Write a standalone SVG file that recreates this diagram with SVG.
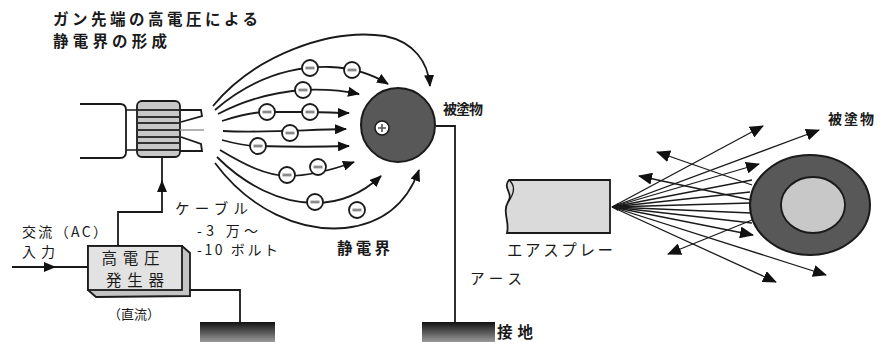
<svg xmlns="http://www.w3.org/2000/svg" width="880" height="342" viewBox="0 0 880 342">
  <style>
    .ln { fill: none; stroke: #1a1a1a; stroke-width: 1.8; }
    .thin { fill: none; stroke: #1a1a1a; stroke-width: 1.3; }
    .txt { font-family: "Noto Sans CJK JP", "Noto Sans", sans-serif; fill: #1a1a1a; }
    .b { font-weight: bold; }
    .neg circle { fill: #fff; stroke: #1a1a1a; stroke-width: 1.8; }
    .neg line { stroke: #8a8a8a; stroke-width: 2.8; }
  </style>
  <defs>
    <marker id="ah" viewBox="0 0 12 10" refX="11" refY="5" markerWidth="12" markerHeight="10" markerUnits="userSpaceOnUse" orient="auto">
      <path d="M0,0 L12,5 L0,10 Z" fill="#111"/>
    </marker>
    <marker id="ah2" viewBox="0 0 14 12" refX="13" refY="6" markerWidth="14" markerHeight="12" markerUnits="userSpaceOnUse" orient="auto">
      <path d="M0,0 L14,6 L0,12 Z" fill="#111"/>
    </marker>
    <linearGradient id="gnd" x1="0" y1="0" x2="0" y2="1">
      <stop offset="0" stop-color="#111"/>
      <stop offset="1" stop-color="#9a9a9a"/>
    </linearGradient>
    <g id="minus" class="neg">
      <circle r="8"/>
      <line x1="-4.5" y1="0" x2="4.5" y2="0"/>
    </g>
  </defs>

  <rect width="880" height="342" fill="#fff"/>

  <!-- heading, two lines -->
  <g id="title">
    <text class="txt b" font-size="15.5">
      <tspan x="53" y="25" textLength="205" lengthAdjust="spacing">ガン先端の高電圧による</tspan>
      <tspan x="53" y="47" textLength="114" lengthAdjust="spacing">静電界の形成</tspan>
    </text>
  </g>

  <!-- spray gun with coil and nozzle -->
  <g id="gun">
    <path class="ln" d="M80,104 H120 Q126,104 126,110 V152 Q126,158 120,158 H80"/>
    <path class="thin" d="M126,110 H137 M126,150 H137"/>
    <rect x="137" y="101" width="43" height="56" rx="5" fill="#c8c8c8" stroke="#1a1a1a" stroke-width="1.8"/>
    <path d="M138,110 H179 M138,117 H179 M138,123 H179 M138,130 H179 M138,137 H179 M138,143 H179 M138,150 H179" stroke="#333" stroke-width="1.8" fill="none"/>
    <path class="ln" d="M180,110 H201 L202,116 L181,122"/>
    <path class="ln" d="M181,137 L201,144 L202,151 H180"/>
    <path d="M180,130 H204" stroke="#999" stroke-width="1.5" fill="none"/>
  </g>

  <!-- high voltage generator -->
  <g id="generator">
    <polygon points="88,246 182,246 190,253 190,296 96,297 88,290" fill="#c4c4c4" stroke="#1a1a1a" stroke-width="1.8"/>
    <rect x="88" y="246" width="94" height="44" fill="#e2e2e2" stroke="#1a1a1a" stroke-width="1.8"/>
    <text class="txt" font-size="15.5" text-anchor="middle">
      <tspan x="135" y="264" textLength="58" lengthAdjust="spacing">高電圧</tspan>
      <tspan x="135" y="286" textLength="58" lengthAdjust="spacing">発生器</tspan>
    </text>
  </g>

  <!-- charged object -->
  <g id="target">
    <circle cx="398" cy="125" r="37" fill="#585858" stroke="#1a1a1a" stroke-width="2"/>
    <circle cx="382" cy="128" r="7" fill="#fff" stroke="#1a1a1a" stroke-width="1.5"/>
    <path d="M382,124 V132 M378,128 H386" stroke="#555" stroke-width="1.6"/>
  </g>

  <!-- grounds -->
  <g id="ground1">
    <rect x="200" y="322" width="75" height="20" fill="url(#gnd)"/>
  </g>
  <g id="ground2">
    <rect x="422" y="322" width="73" height="20" fill="url(#gnd)"/>
  </g>

  <!-- air spray pipe -->
  <g id="airspray">
    <path d="M509,180 H610 V233 H507 C510,222 502,212 508,202 C514,193 502,188 509,180 Z" fill="#dadada" stroke="#1a1a1a" stroke-width="1.8"/>
    <path class="thin" d="M509,180 C516,186 514,194 508,202"/>
  </g>

  <!-- ring object -->
  <g id="ring">
    <ellipse cx="810" cy="205" rx="60" ry="50" fill="#585858" stroke="#1a1a1a" stroke-width="2"/>
    <ellipse cx="813" cy="205" rx="32" ry="28" fill="#c8c8c8" stroke="#1a1a1a" stroke-width="1.8"/>
  </g>

  <!-- connectors -->
  <g id="connectors">
    <!-- field lines -->
    <path class="ln" marker-end="url(#ah)" d="M213,106 C255,55 330,28 385,36 C414,42 428,62 430,86"/>
    <path class="ln" marker-end="url(#ah)" d="M215,110 C250,80 290,66 330,67 C355,68 372,74 388,84"/>
    <path class="ln" marker-end="url(#ah)" d="M218,114 C245,100 275,92 303,90 C325,89 340,90 359,94"/>
    <path class="ln" marker-end="url(#ah)" d="M222,121 C240,115 255,112 267,112 L310,112 C325,112 335,113 349,113"/>
    <path class="ln" marker-end="url(#ah)" d="M223,131 C260,133 300,130 346,129"/>
    <path class="ln" marker-end="url(#ah)" d="M222,140 C240,145 250,146 258,146 C290,147 320,147 349,146"/>
    <path class="ln" marker-end="url(#ah)" d="M220,150 C245,165 265,175 287,176 C310,176 332,170 354,162"/>
    <path class="ln" marker-end="url(#ah)" d="M217,157 C245,185 280,203 315,203 C345,203 366,190 381,176"/>
    <path class="ln" marker-end="url(#ah)" d="M215,163 C250,210 300,232 345,228 C390,223 410,195 419,170"/>

    <!-- supply wiring -->
    <path class="ln" d="M12,267 H88"/>
    <polygon points="44,262 56,267 44,272" fill="#111"/>
    <path class="ln" d="M118,246 V212 H162 V157"/>
    <polygon points="162,180 157,192 167,192" fill="#111"/>
    <path class="ln" d="M189,290 H240 V322"/>
    <path class="ln" d="M436,126 H455 V322"/>

    <!-- spray paths -->
    <path d="M612,207 L618,203 L618,211 Z" fill="#111"/>
    <g class="thin">
      <path marker-end="url(#ah2)" d="M612,207 L763,126"/>
      <path marker-end="url(#ah2)" d="M612,207 L819,130"/>
      <path marker-end="url(#ah2)" d="M612,207 L759,164"/>
      <path marker-end="url(#ah2)" d="M612,207 L753,235"/>
      <path marker-end="url(#ah2)" d="M612,207 L776,282"/>
      <path marker-end="url(#ah2)" d="M612,207 L826,275"/>
      <path d="M612,207 L752,180"/>
      <path d="M612,207 L750,192"/>
      <path d="M612,207 L750,203"/>
      <path d="M612,207 L751,213"/>
      <path d="M612,207 L752,223"/>
      <path marker-end="url(#ah2)" d="M752,185 L657,152"/>
      <path marker-end="url(#ah2)" d="M751,200 L639,176"/>
      <path marker-end="url(#ah2)" d="M752,220 L668,254"/>
    </g>
  </g>

  <!-- negative charges -->
  <g id="charges">
    <use href="#minus" x="310" y="68"/>
    <use href="#minus" x="352" y="70"/>
    <use href="#minus" x="303" y="90"/>
    <use href="#minus" x="267" y="112"/>
    <use href="#minus" x="310" y="112"/>
    <use href="#minus" x="290" y="133"/>
    <use href="#minus" x="258" y="146"/>
    <use href="#minus" x="318" y="167"/>
    <use href="#minus" x="287" y="175"/>
    <use href="#minus" x="315" y="202"/>
    <use href="#minus" x="357" y="210"/>
  </g>

  <!-- labels -->
  <g id="labels">
    <text class="txt" font-size="14">
      <tspan x="22" y="237" textLength="85" lengthAdjust="spacing">交流（AC）</tspan>
      <tspan x="22" y="257" textLength="33" lengthAdjust="spacing">入力</tspan>
    </text>
    <text class="txt" x="108" y="319" font-size="13" textLength="52" lengthAdjust="spacing">（直流）</text>
    <text class="txt" font-size="14.5">
      <tspan x="175" y="214" textLength="73" lengthAdjust="spacing">ケーブル</tspan>
      <tspan x="197" y="236" font-size="14" textLength="61" lengthAdjust="spacing">-3 万～</tspan>
      <tspan x="197" y="255" font-size="14" textLength="81" lengthAdjust="spacing">-10 ボルト</tspan>
    </text>
    <text class="txt b" x="443" y="114" font-size="14" textLength="40" lengthAdjust="spacing">被塗物</text>
    <text class="txt b" x="337" y="254" font-size="15.5" textLength="53" lengthAdjust="spacing">静電界</text>
    <text class="txt" x="470" y="284" font-size="14.5" textLength="52" lengthAdjust="spacing">アース</text>
    <text class="txt b" x="497" y="338" font-size="15.5" textLength="36" lengthAdjust="spacing">接地</text>
    <text class="txt" x="507" y="256" font-size="15.5" textLength="106" lengthAdjust="spacing">エアスプレー</text>
    <text class="txt b" x="828" y="124" font-size="14" textLength="46" lengthAdjust="spacing">被塗物</text>
  </g>
</svg>
